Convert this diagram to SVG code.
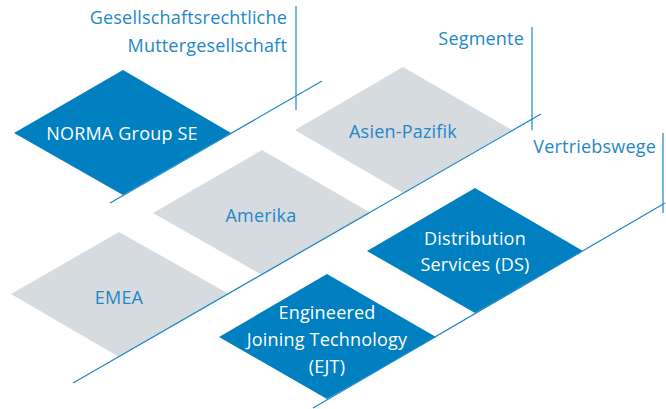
<svg xmlns="http://www.w3.org/2000/svg" width="666" height="409" viewBox="0 0 666 409">
<style>
.blue{fill:#0080C1}
.grey{fill:#D6DBE0}
text{font-family:"Open Sans","Liberation Sans",sans-serif;font-size:18px;letter-spacing:0.2px}
.wt{fill:#FFFFFF;text-anchor:middle}
.bt{fill:#1E87C7;text-anchor:middle}
.lab{fill:#1E87C7;text-anchor:end}
.ln{stroke:#1E87C7;stroke-width:1.2;fill:none}
</style>
<rect width="666" height="409" fill="#FFFFFF"/>
<g id="norma">
<polygon class="blue" points="14,133 123,70 231,133 123,195"/>
<text class="wt" x="122" y="140">NORMA Group SE</text>
</g>
<g id="asien">
<polygon class="grey" points="295,130 403,67 512,130 403,193"/>
<text class="bt" x="403" y="138">Asien-Pazifik</text>
</g>
<g id="amerika">
<polygon class="grey" points="153,213 262,150 371,213 262,275"/>
<text class="bt" x="261" y="222">Amerika</text>
</g>
<g id="emea">
<polygon class="grey" points="11,294 119,232 229,294 119,357"/>
<text class="bt" x="119" y="304">EMEA</text>
</g>
<g id="ds">
<polygon class="blue" points="367,251 475,188 583,251 475,313"/>
<text class="wt" x="475" y="245">Distribution</text>
<text class="wt" x="475" y="271">Services (DS)</text>
</g>
<g id="ejt">
<polygon class="blue" points="219,337 327,274 436,337 327,399"/>
<text class="wt" x="327" y="319">Engineered</text>
<text class="wt" x="327" y="346">Joining Technology</text>
<text class="wt" x="327" y="373">(EJT)</text>
</g>
<g id="labels">
<text class="lab" x="287" y="24">Gesellschaftsrechtliche</text>
<text class="lab" x="287" y="52">Muttergesellschaft</text>
<text class="lab" x="524" y="45">Segmente</text>
<text class="lab" x="656" y="153">Vertriebswege</text>
</g>
<g id="connectors">
<line class="ln" x1="110" y1="203" x2="322" y2="81"/>
<line class="ln" x1="296" y1="6" x2="296" y2="110"/>
<line class="ln" x1="73" y1="383" x2="541" y2="114"/>
<line class="ln" x1="532" y1="27" x2="532" y2="130"/>
<line class="ln" x1="313" y1="408" x2="665" y2="203"/>
<line class="ln" x1="663" y1="133" x2="663" y2="213"/>
</g>
</svg>
